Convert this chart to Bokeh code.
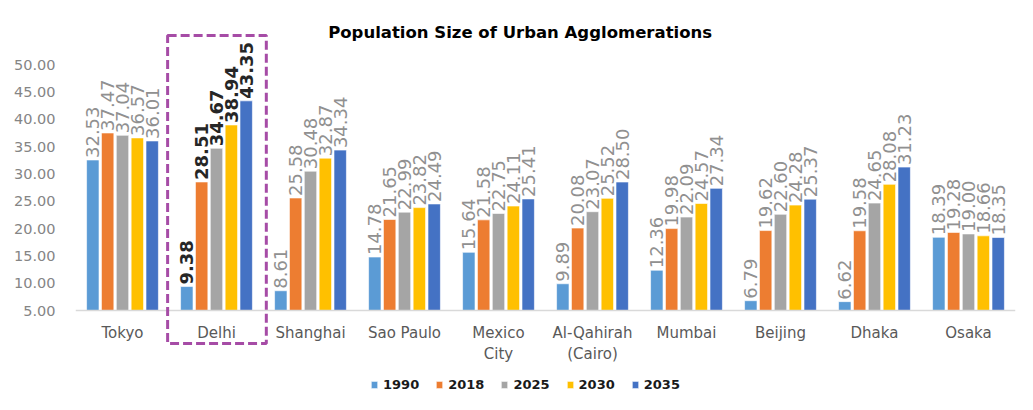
from bokeh.plotting import figure
from bokeh.models import (ColumnDataSource, FactorRange, Range1d, FixedTicker,
                          NumeralTickFormatter, Label, BoxAnnotation, Legend, LegendItem)
from bokeh.transform import dodge
from bokeh.core.properties import value
from bokeh.embed import file_html
from bokeh.resources import INLINE

cities = ["Tokyo", "Delhi", "Shanghai", "Sao Paulo", "Mexico\nCity",
          "Al-Qahirah\n(Cairo)", "Mumbai", "Beijing", "Dhaka", "Osaka"]
years = ["1990", "2018", "2025", "2030", "2035"]
y1990 = [32.53, 9.38, 8.61, 14.78, 15.64, 9.89, 12.36, 6.79, 6.62, 18.39]
y2018 = [37.47, 28.51, 25.58, 21.65, 21.58, 20.08, 19.98, 19.62, 19.58, 19.28]
y2025 = [37.04, 34.67, 30.48, 22.99, 22.75, 23.07, 22.09, 22.60, 24.65, 19.00]
y2030 = [36.57, 38.94, 32.87, 23.82, 24.11, 25.52, 24.57, 24.28, 28.08, 18.66]
y2035 = [36.01, 43.35, 34.34, 24.49, 25.41, 28.50, 27.34, 25.37, 31.23, 18.35]
y_ticks = [5, 10, 15, 20, 25, 30, 35, 40, 45, 50]
highlight = "Delhi"
title_text = "Population Size of Urban Agglomerations"

series = [y1990, y2018, y2025, y2030, y2035]
colors = ["#5B9BD5", "#ED7D31", "#A5A5A5", "#FFC000", "#4472C4"]
offsets = [-0.316, -0.158, 0.0, 0.158, 0.316]
FONT = "DejaVu Sans"
BASE = 5

data = {"city": cities}
for yr, vals in zip(years, series):
    data["v" + yr] = vals
    data["t" + yr] = ["%.2f" % v for v in vals]
data["style"] = ["bold" if c == highlight else "normal" for c in cities]
data["lcolor"] = ["#262626" if c == highlight else "#909090" for c in cities]
src = ColumnDataSource(data)

p = figure(frame_width=940, frame_height=369, output_backend="svg",
           toolbar_location=None,
           x_range=FactorRange(factors=cities, range_padding=0),
           y_range=Range1d(-10.0, 57.5))
p.min_border_left = 75
p.min_border_right = 2
p.min_border_top = 23
p.min_border_bottom = 2
p.outline_line_color = None
p.background_fill_color = "white"
p.border_fill_color = "white"
p.xgrid.visible = False
p.ygrid.visible = False

items = []
for yr, col, off in zip(years, colors, offsets):
    r = p.vbar(x=dodge("city", off, range=p.x_range), top="v" + yr, bottom=BASE,
               width=0.132, source=src, fill_color=col, line_color="white",
               line_width=0.6)
    items.append(LegendItem(label=yr, renderers=[r]))
    p.text(x=dodge("city", off, range=p.x_range), y="v" + yr, text="t" + yr,
           source=src, angle=1.5708, text_align="left", text_baseline="middle",
           y_offset=-2, text_font=value(FONT), text_font_size="18px",
           text_font_style="style", text_color="lcolor")

p.yaxis.ticker = FixedTicker(ticks=y_ticks)
p.yaxis.formatter = NumeralTickFormatter(format="0.00")
p.yaxis.axis_line_color = None
p.yaxis.major_tick_line_color = None
p.yaxis.minor_tick_line_color = None
p.yaxis.major_label_text_font = FONT
p.yaxis.major_label_text_font_size = "14.5px"
p.yaxis.major_label_text_color = "#858585"
p.yaxis.major_label_standoff = 14

p.xaxis.fixed_location = BASE
p.xaxis.axis_line_color = "#d9d9d9"
p.xaxis.axis_line_width = 1.5
p.xaxis.major_tick_line_color = None
p.xaxis.minor_tick_line_color = None
p.xaxis.major_label_text_font = FONT
p.xaxis.major_label_text_font_size = "15px"
p.xaxis.major_label_text_color = "#595959"
p.xaxis.major_label_standoff = 7

p.add_layout(Label(x=4.73, y=55.85, text=title_text, text_font=FONT,
                   text_font_size="16.5px", text_font_style="bold",
                   text_color="black", text_align="center",
                   text_baseline="middle"))

p.add_layout(BoxAnnotation(left=0.98, right=2.03, top=55.3, bottom=-1.05,
                           fill_alpha=0, line_color="#A64CA6", line_alpha=1,
                           line_width=3, line_dash="9 4"))

legend = Legend(items=items, orientation="horizontal", location=(295, 0),
                glyph_width=8, glyph_height=9, label_standoff=5, spacing=16,
                label_text_font=FONT, label_text_font_size="13px",
                label_text_font_style="bold", label_text_color="#1a1a1a",
                border_line_color=None, background_fill_alpha=0,
                padding=2, margin=0)
p.add_layout(legend, "center")

open("out.html", "w").write(file_html(p, INLINE))
